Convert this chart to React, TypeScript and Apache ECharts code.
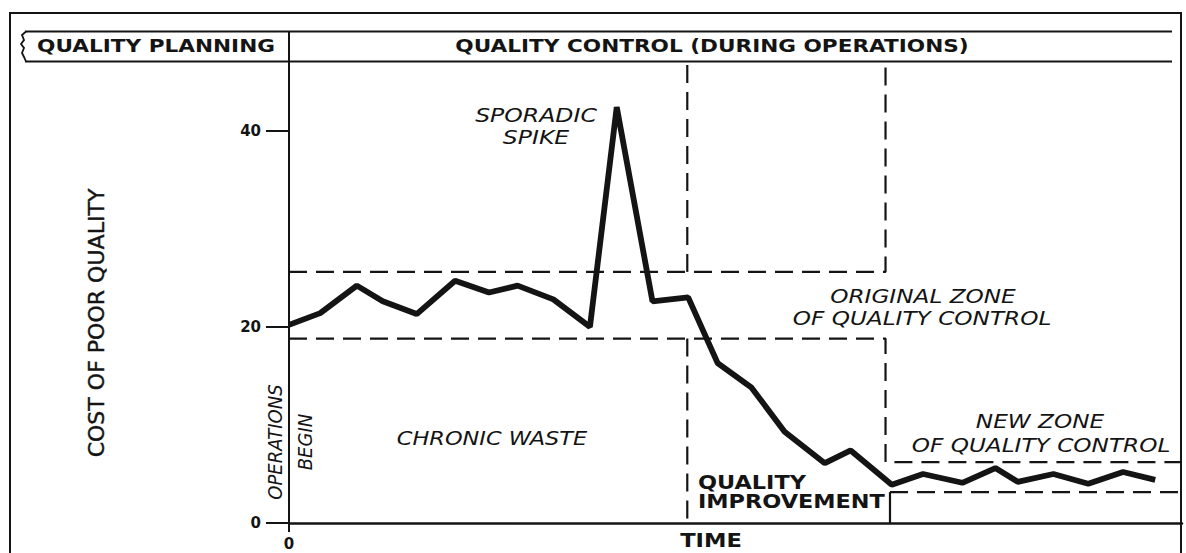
import React, { useEffect, useRef } from "react";
import * as echarts from "echarts";

// ---- data (axis units: time index 0..100, cost 0..47) ----
const yTickValues = [0, 20, 40];
const xTickValues = [0];
const timeIndex = [0, 3.5, 7.6, 10.5, 14.3, 18.6, 22.4, 25.6, 29.6, 33.7, 36.7, 40.7, 44.7, 48.0, 51.8, 55.5, 60.0, 62.9, 67.5, 71.0, 75.4, 79.1, 81.6, 85.6, 89.5, 93.4, 97.0];
const costOfPoorQuality = [20.2, 21.4, 24.2, 22.6, 21.3, 24.7, 23.5, 24.2, 22.8, 20.0, 42.4, 22.6, 23.0, 16.3, 13.8, 9.3, 6.1, 7.4, 3.9, 5.0, 4.1, 5.6, 4.2, 5.0, 4.0, 5.2, 4.4];

const originalZoneUpper = [[0, 25.6], [66.8, 25.6], [66.8, 47]];
const improvementStartUpper = [[44.6, 25.6], [44.6, 47]];
const originalZoneLower = [[0, 18.8], [66.8, 18.8], [66.8, 6.2], [100, 6.2]];
const improvementStartLower = [[44.6, 18.8], [44.6, 0]];
const newZoneLower = [[67.3, 3.15], [100, 3.15]];
const improvementEnd = [[67.3, 3.15], [67.3, 0]];

const headerPlanning = "QUALITY PLANNING";
const headerControl = "QUALITY CONTROL (DURING OPERATIONS)";
const yTitle = "COST OF POOR QUALITY";
const xTitle = "TIME";

const ink = "#141414";
const FONT = "DejaVu Sans";

function italicText(text: string, x: number, y: number, sx: number, rotation = 0, size = 19) {
  return {
    type: "text",
    x,
    y,
    scaleX: sx,
    rotation,
    z: 20,
    style: {
      text,
      fill: ink,
      fontFamily: FONT,
      fontStyle: "italic",
      fontSize: size,
      align: "center",
      verticalAlign: "middle",
    },
  };
}

function boldText(text: string, x: number, y: number, sx: number, size: number, align = "center") {
  return {
    type: "text",
    x,
    y,
    scaleX: sx,
    z: 20,
    style: {
      text,
      fill: ink,
      fontFamily: FONT,
      fontWeight: "bold",
      fontSize: size,
      align,
      verticalAlign: "middle",
    },
  };
}

function hLine(x1: number, x2: number, y: number, w = 2) {
  return { type: "line", z: 15, shape: { x1, y1: y, x2, y2: y }, style: { stroke: ink, lineWidth: w } };
}

export default function App() {
  const ref = useRef<HTMLDivElement>(null);

  useEffect(() => {
    if (!ref.current) return;
    const chart = echarts.init(ref.current, null, { renderer: "svg" });
    const dashed = { color: ink, width: 2.2, type: [18, 9] as any };
    const zoneSeries = (data: number[][], solid = false) => ({
      type: "line",
      data,
      symbol: "none",
      silent: true,
      z: 3,
      lineStyle: solid ? { color: ink, width: 2.2 } : dashed,
    });

    chart.setOption({
      animation: false,
      backgroundColor: "#ffffff",
      grid: { left: 289, top: 62, right: 4, bottom: 30, containLabel: false },
      xAxis: {
        type: "value",
        min: 0,
        max: 100,
        axisLine: { show: true, lineStyle: { color: ink, width: 2.5 } },
        axisTick: { show: true, length: 9, inside: false, customValues: xTickValues, lineStyle: { color: ink, width: 2 } },
        axisLabel: {
          show: true,
          customValues: xTickValues,
          margin: 13,
          color: ink,
          fontFamily: FONT,
          fontWeight: "bold",
          fontSize: 15,
        },
        splitLine: { show: false },
      },
      yAxis: {
        type: "value",
        min: 0,
        max: 47,
        interval: 20,
        axisLine: { show: true, lineStyle: { color: ink, width: 2 } },
        axisTick: { show: true, length: 23, inside: false, customValues: yTickValues, lineStyle: { color: ink, width: 2 } },
        axisLabel: {
          show: true,
          customValues: yTickValues,
          showMaxLabel: true,
          hideOverlap: false,
          margin: 28,
          color: ink,
          fontFamily: FONT,
          fontWeight: "bold",
          fontSize: 15,
          formatter: (v: number) => (yTickValues.includes(v) ? String(v) : ""),
        },
        splitLine: { show: false },
      },
      series: [
        zoneSeries(originalZoneUpper),
        zoneSeries(improvementStartUpper),
        zoneSeries(originalZoneLower),
        zoneSeries(improvementStartLower),
        zoneSeries(newZoneLower),
        zoneSeries(improvementEnd, true),
        {
          type: "line",
          name: "Cost of poor quality",
          data: timeIndex.map((t, i) => [t, costOfPoorQuality[i]]),
          symbol: "none",
          z: 5,
          lineStyle: { color: ink, width: 5.8, join: "bevel" },
        },
      ],
      graphic: [
        { type: "rect", z: 15, shape: { x: 10, y: 13, width: 1171, height: 600 }, style: { fill: "none", stroke: ink, lineWidth: 2 } },
        hLine(25, 1172, 31.5),
        hLine(25, 1172, 61.5),
        { type: "line", z: 15, shape: { x1: 289, y1: 31, x2: 289, y2: 62 }, style: { stroke: ink, lineWidth: 2 } },
        {
          type: "polyline",
          z: 15,
          shape: { points: [[26, 31.5], [22, 35], [24, 40], [21, 44], [24, 48], [22, 53], [24, 57], [26, 61.5]] },
          style: { stroke: ink, lineWidth: 1.8, fill: "none" },
        },
        boldText(headerPlanning, 156, 46, 1.2, 18),
        boldText(headerControl, 712, 46, 1.2, 18),
        {
          type: "text",
          x: 97,
          y: 323,
          rotation: Math.PI / 2,
          scaleX: 1.05,
          z: 20,
          style: { text: yTitle, fill: ink, fontFamily: FONT, fontSize: 21, align: "center", verticalAlign: "middle", stroke: ink, lineWidth: 0.4 },
        },
        boldText(xTitle, 711, 540, 1.13, 20),
        italicText("SPORADIC", 536, 115, 1.24),
        italicText("SPIKE", 536, 137, 1.24),
        italicText("ORIGINAL ZONE", 923, 296, 1.22),
        italicText("OF QUALITY CONTROL", 922, 318, 1.22),
        italicText("CHRONIC WASTE", 492, 439, 1.18),
        italicText("NEW ZONE", 1040, 421, 1.22),
        italicText("OF QUALITY CONTROL", 1041, 445, 1.22),
        italicText("OPERATIONS", 275, 442, 0.95, Math.PI / 2),
        italicText("BEGIN", 305, 442, 0.95, Math.PI / 2),
        boldText("QUALITY", 698, 482, 1.12, 20, "left"),
        boldText("IMPROVEMENT", 698, 501, 1.12, 20, "left"),
      ],
    } as any);

    return () => chart.dispose();
  }, []);

  return (
    <div
      ref={ref}
      style={{ position: "fixed", left: 0, top: 0, width: 1186, height: 553, background: "#fff" }}
    />
  );
}
